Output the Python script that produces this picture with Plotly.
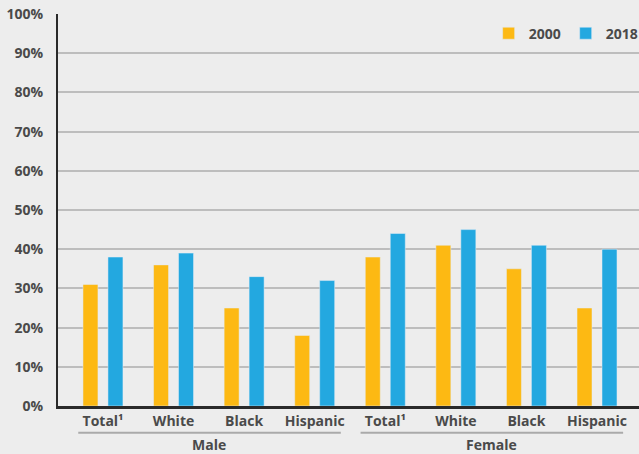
import plotly.graph_objects as go

categories = ["Total¹", "White", "Black", "Hispanic", "Total¹", "White", "Black", "Hispanic"]
groups = ["Male", "Female"]
values_2000 = [31, 36, 25, 18, 38, 41, 35, 25]
values_2018 = [38, 39, 33, 32, 44, 45, 41, 40]
y_ticks = [0, 10, 20, 30, 40, 50, 60, 70, 80, 90, 100]

ORANGE = "#FDB913"
BLUE = "#23A8E0"
TEXT = "#4a4a4a"
FONT = "Open Sans"

xs = list(range(len(categories)))

fig = go.Figure()
fig.add_trace(go.Bar(x=xs, y=values_2000, name="2000", marker_color=ORANGE))
fig.add_trace(go.Bar(x=xs, y=values_2018, name="2018", marker_color=BLUE))

# group labels and underline
for gi, g in enumerate(groups):
    x0 = gi * 4 - 0.35
    x1 = gi * 4 + 3 + 0.37
    fig.add_shape(type="line", xref="x", yref="paper", x0=x0, x1=x1, y0=-0.068, y1=-0.068,
                  line=dict(color="#aaaaaa", width=2))
    fig.add_annotation(x=gi * 4 + 1.5, xref="x", y=-0.097, yref="paper", text=g,
                       showarrow=False, yanchor="middle",
                       font=dict(family=FONT, size=14, color=TEXT, weight="bold"))

fig.update_layout(
    width=639, height=454,
    margin=dict(l=58, r=0, t=14, b=48, autoexpand=False),
    paper_bgcolor="#ededed", plot_bgcolor="#ededed",
    barmode="group", bargap=0.292, bargroupgap=0.4,
    font=dict(family=FONT, color=TEXT),
    legend=dict(orientation="h", x=1.008, xanchor="right", y=0.95, yanchor="middle",
                font=dict(family=FONT, size=14, color=TEXT, weight="bold"),
                bgcolor="rgba(0,0,0,0)", itemwidth=30, traceorder="normal"),
    xaxis=dict(range=[-0.637, 7.595], tickmode="array", tickvals=xs, ticktext=categories,
               showgrid=False, showline=True, linecolor="#2a2a2a", linewidth=3,
               ticks="", tickfont=dict(family=FONT, size=14, color=TEXT, weight="bold"),
               zeroline=False),
    yaxis=dict(range=[0, 100], tickmode="array", tickvals=y_ticks,
               ticktext=[f"{v}%" for v in y_ticks],
               showgrid=True, gridcolor="#bdbdbd", gridwidth=2,
               showline=True, linecolor="#2a2a2a", linewidth=2,
               zeroline=False, ticks="", ticklabelstandoff=10,
               tickfont=dict(family=FONT, size=14, color=TEXT, weight="bold")),
)

fig.write_html("out.html")
